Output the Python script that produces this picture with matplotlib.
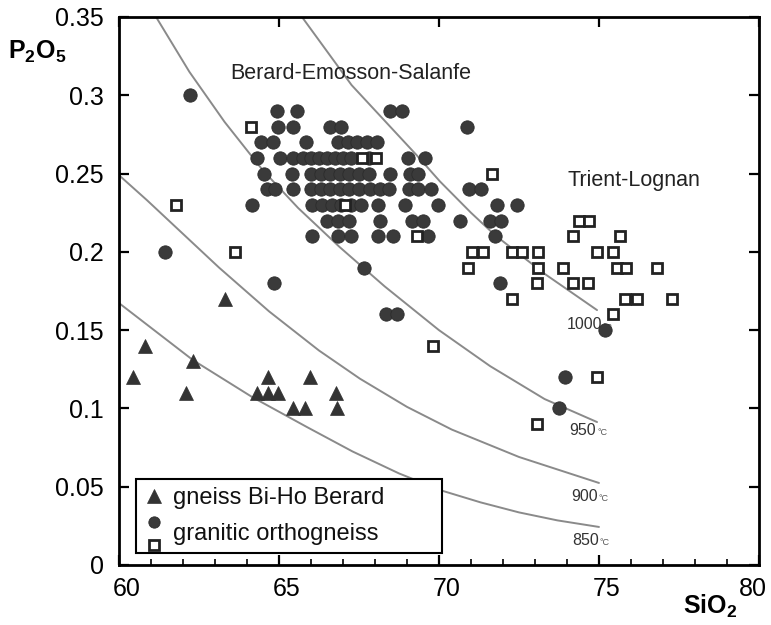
import matplotlib
matplotlib.use('Agg')
import matplotlib.pyplot as plt
import matplotlib.font_manager as fm
from matplotlib.lines import Line2D
from matplotlib.legend_handler import HandlerBase
from matplotlib.transforms import ScaledTranslation

plt.rcParams['font.family'] = ['Liberation Sans', 'DejaVu Sans']
plt.rcParams['mathtext.fontset'] = 'custom'
plt.rcParams['mathtext.rm'] = 'Liberation Sans'
plt.rcParams['mathtext.bf'] = 'Liberation Sans:bold'
plt.rcParams['mathtext.it'] = 'Liberation Sans:italic'

# ---------------- data ----------------
# gneiss Bi-Ho Berard (triangles)
tri_sio2 = [60.45, 60.81, 62.10, 62.32, 63.31, 64.30, 64.67, 64.98, 64.67,
            65.45, 65.81, 65.97, 66.78, 66.80]
tri_p2o5 = [0.12, 0.14, 0.11, 0.13, 0.17, 0.11, 0.11, 0.11, 0.12,
            0.10, 0.10, 0.12, 0.11, 0.10]

# granitic orthogneiss, Berard-Emosson-Salanfe (filled circles), by P2O5 row
circ_rows = {
    0.30: [62.21],
    0.29: [64.93, 65.55, 68.47, 68.83],
    0.28: [64.97, 65.45, 66.60, 66.95, 70.87],
    0.27: [64.45, 64.80, 65.86, 66.85, 67.15, 67.45, 67.75, 68.05],
    0.26: [64.30, 65.03, 65.45, 65.75, 66.00, 66.25, 66.50, 66.75, 67.00,
           67.25, 67.80, 69.04, 69.56],
    0.25: [64.52, 65.40, 66.00, 66.30, 66.60, 66.90, 67.20, 67.50, 67.80,
           68.47, 69.10, 69.35],
    0.24: [64.62, 64.88, 65.45, 66.00, 66.30, 66.60, 66.90, 67.20, 67.50,
           67.85, 68.15, 68.45, 69.05, 69.35, 69.75, 70.95, 71.30],
    0.23: [64.15, 66.02, 66.35, 66.65, 66.95, 67.25, 67.55, 68.10, 68.94,
           69.98, 71.80, 72.45],
    0.22: [66.50, 66.85, 67.20, 68.16, 69.15, 69.50, 70.66, 71.60, 71.95],
    0.21: [66.02, 66.85, 67.25, 68.10, 68.57, 69.67, 71.75],
    0.20: [61.44],
    0.19: [67.66],
    0.18: [64.84, 71.90],
    0.16: [68.35, 68.70],
    0.15: [75.19],
    0.12: [73.94],
    0.10: [73.76],
}
circ_sio2 = [x for p, xs in circ_rows.items() for x in xs]
circ_p2o5 = [p for p, xs in circ_rows.items() for x in xs]

# granitic orthogneiss, Trient-Lognan (open squares)
sq_sio2 = [61.79, 63.63, 64.12, 67.06, 67.58, 68.02, 69.30, 69.80, 71.65,
           70.92, 71.02, 71.39, 72.27, 72.58, 73.10, 74.93, 75.45,
           74.39, 74.70, 74.20, 75.66, 73.10, 73.88, 75.55, 75.86, 76.80,
           73.05, 74.20, 74.67, 72.27, 75.81, 76.18, 77.27, 75.45, 74.93, 73.05]
sq_p2o5 = [0.23, 0.20, 0.28, 0.23, 0.26, 0.26, 0.21, 0.14, 0.25,
           0.19, 0.20, 0.20, 0.20, 0.20, 0.20, 0.20, 0.20,
           0.22, 0.22, 0.21, 0.21, 0.19, 0.19, 0.19, 0.19, 0.19,
           0.18, 0.18, 0.18, 0.17, 0.17, 0.17, 0.17, 0.16, 0.12, 0.09]

# apatite saturation isotherms
iso_1000_x = [65.72, 67.27, 69.30, 70.03, 71.00, 71.75, 73.30, 74.94]
iso_1000_y = [0.350, 0.3065, 0.2618, 0.2450, 0.2250, 0.2107, 0.1860, 0.1628]
iso_950_x = [61.16, 62.20, 63.30, 64.50, 65.60, 66.90, 68.30, 70.00, 71.60, 73.30, 74.94]
iso_950_y = [0.350, 0.315, 0.283, 0.252, 0.228, 0.203, 0.178, 0.150, 0.127, 0.106, 0.0913]
iso_900_x = [60.00, 60.875, 63.125, 64.69, 66.25, 67.53, 69.00, 70.40, 72.50, 75.00]
iso_900_y = [0.249, 0.233, 0.190, 0.162, 0.137, 0.119, 0.101, 0.0865, 0.069, 0.0524]
iso_850_x = [60.00, 62.31, 64.16, 65.875, 67.30, 68.75, 70.09, 71.30, 72.50, 73.70, 75.00]
iso_850_y = [0.1673, 0.1309, 0.1073, 0.0881, 0.0725, 0.0585, 0.0475, 0.0400, 0.0336, 0.0285, 0.0243]

iso_labels = ['1000', '950', '900', '850']
iso_label_x = [73.98, 74.08, 74.12, 74.15]
iso_label_y = [0.1533, 0.0858, 0.0436, 0.0155]

x_ticks = [60, 65, 70, 75, 80]
x_ticklabels = ['60', '65', '70', '75', '80']
x_minor = [m for m in range(61, 80) if m % 5 != 0]
y_ticks = [0, 0.05, 0.10, 0.15, 0.20, 0.25, 0.30, 0.35]
y_ticklabels = ['0', '0.05', '0.1', '0.15', '0.2', '0.25', '0.3', '0.35']

legend_labels = ['gneiss Bi-Ho Berard', 'granitic orthogneiss']

# ---------------- style ----------------
DARK = '#3a3a3a'
CURVE = '#8a8a8a'
tri_kw = dict(marker='^', ls='none', ms=10, mfc='#333333', mec='#333333', mew=0.5)
circ_kw = dict(marker='o', ls='none', ms=9.6, mfc=DARK, mec='#2c2c2c', mew=0.6)
sq_kw = dict(marker='s', ls='none', ms=7.3, mfc='white', mec='#222222', mew=2.0)

font_names = {f.name for f in fm.fontManager.ttflist}
if 'Liberation Sans Narrow' in font_names:
    iso_font = dict(family='Liberation Sans Narrow', fontsize=13.5)
    deg_off = 7.6
else:
    iso_font = dict(family='Liberation Sans', fontsize=11.5)
    deg_off = 6.6

fig = plt.figure(figsize=(7.71, 6.25), dpi=100)
ax = fig.add_axes([0.1543, 0.096, 0.8301, 0.8768])

for xs, ys in [(iso_1000_x, iso_1000_y), (iso_950_x, iso_950_y),
               (iso_900_x, iso_900_y), (iso_850_x, iso_850_y)]:
    ax.plot(xs, ys, color=CURVE, lw=1.4, zorder=1, solid_capstyle='round',
            solid_joinstyle='round')

for lab, lx, ly in zip(iso_labels, iso_label_x, iso_label_y):
    ax.text(lx, ly, lab, color='#333333', ha='left', va='center', zorder=2, **iso_font)
    ax.annotate('°C', xy=(lx, ly), xytext=(deg_off * len(lab), -1.5),
                textcoords='offset points', fontsize=6.5, color='#555555',
                ha='left', va='center', zorder=2)

ax.plot(tri_sio2, tri_p2o5, zorder=3, **tri_kw)
ax.plot(circ_sio2, circ_p2o5, zorder=4, **circ_kw)
ax.plot(sq_sio2, sq_p2o5, zorder=5, **sq_kw)

ax.text(63.47, 0.3136, 'Berard-Emosson-Salanfe', fontsize=15.5, color='#222222',
        ha='left', va='center')
ax.text(74.03, 0.2458, 'Trient-Lognan', fontsize=15.5, color='#222222',
        ha='left', va='center')

ax.set_xlim(60, 80)
ax.set_ylim(0, 0.35)
ax.set_xticks(x_ticks)
ax.set_xticklabels(x_ticklabels)
ax.set_xticks(x_minor, minor=True)
ax.set_yticks(y_ticks)
ax.set_yticklabels(y_ticklabels)
ax.tick_params(axis='both', which='major', direction='in', length=7, width=1.6,
               top=True, right=True, labelsize=18, colors='black')
ax.tick_params(axis='y', which='major', pad=11)
ax.tick_params(axis='x', which='major', pad=9)
ax.tick_params(axis='x', which='minor', direction='in', length=4, width=1.2,
               top=False, bottom=True)
for sp in ax.spines.values():
    sp.set_linewidth(2.0)
    sp.set_color('black')

xlabels = ax.get_xticklabels()
shift = ScaledTranslation(8 / 100, 0, fig.dpi_scale_trans)
for lbl in xlabels[:-1]:
    lbl.set_transform(lbl.get_transform() + shift)
xlabels[-1].set_transform(xlabels[-1].get_transform()
                          + ScaledTranslation(-6 / 100, 0, fig.dpi_scale_trans))

fig.text(0.0104, 0.917, r'$\mathbf{P_2O_5}$', fontsize=18, ha='left', va='center')
fig.text(0.886, 0.030, r'$\mathbf{SiO_2}$', fontsize=18, ha='left', va='center')


class HandlerStack(HandlerBase):
    def create_artists(self, legend, orig_handle, xdescent, ydescent, width, height,
                       fontsize, trans):
        top, bottom = orig_handle
        xc = width / 2 - xdescent
        yc = height / 2 - ydescent
        a = Line2D([xc], [yc + 0.62 * height], marker=top.get_marker(), ls='none',
                   ms=top.get_markersize() * 0.85, mfc=top.get_markerfacecolor(),
                   mec=top.get_markeredgecolor(), mew=top.get_markeredgewidth())
        b = Line2D([xc], [yc - 0.78 * height], marker=bottom.get_marker(), ls='none',
                   ms=bottom.get_markersize() * 0.9, mfc=bottom.get_markerfacecolor(),
                   mec=bottom.get_markeredgecolor(), mew=bottom.get_markeredgewidth())
        a.set_transform(trans)
        b.set_transform(trans)
        return [a, b]


h_tri = Line2D([], [], **tri_kw)
h_circ = Line2D([], [], **circ_kw)
h_sq = Line2D([], [], **sq_kw)
leg = ax.legend([h_tri, (h_circ, h_sq)], legend_labels,
                handler_map={tuple: HandlerStack()},
                loc='lower left', bbox_to_anchor=(0.0266, 0.0219, 0.4781, 0.1387),
                mode='expand', borderaxespad=0, frameon=True, fancybox=False,
                fontsize=17, handlelength=0.9, handletextpad=0.35,
                labelspacing=0.62, borderpad=0.32)
leg.get_frame().set_edgecolor('black')
leg.get_frame().set_linewidth(1.5)
leg.get_frame().set_alpha(1)
for t in leg.get_texts():
    t.set_color('#111111')

fig.savefig('out.png', dpi=100, facecolor='white')
